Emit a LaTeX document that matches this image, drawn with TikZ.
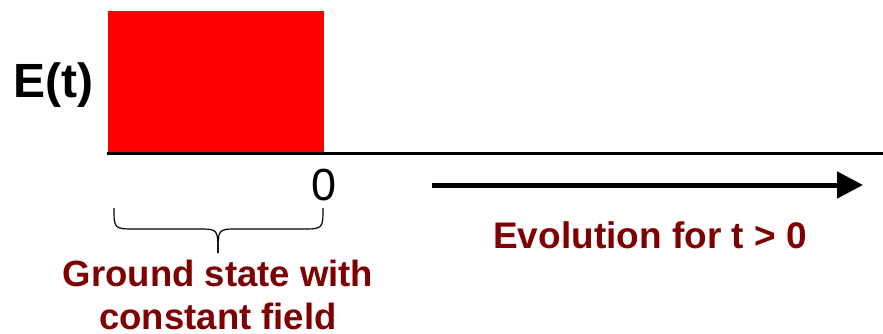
\documentclass[tikz,border=0pt]{standalone}
\usepackage{fontspec}
\setmainfont{Liberation Sans}
\usetikzlibrary{arrows.meta}
\definecolor{labelred}{HTML}{7F0000}
\begin{document}
\begin{tikzpicture}[x=1pt,y=-1pt,
  lbl/.style={inner sep=0pt,anchor=base,font=\bfseries\fontsize{36.5}{43}\selectfont,text=labelred,align=center},
  axisline/.style={line width=3pt},
  bracepath/.style={line width=1.2pt}]
  \useasboundingbox (0,0) rectangle (883,334);
  % field pulse before t = 0
  \fill[red] (108,11) rectangle (324,152);
  % time axis
  \coordinate (ax0) at (107,153);
  \coordinate (ax1) at (883,153);
  \draw[axisline] (ax0) -- (ax1);
  \node[inner sep=0pt,anchor=base,font=\bfseries\fontsize{48}{48}\selectfont] (E) at (53.5,98) {E(t)};
  \node[inner sep=0pt,anchor=base,font=\fontsize{45}{45}\selectfont] (zero) at (324,200) {0};
  % evolution arrow
  \coordinate (ev0) at (432,185);
  \coordinate (ev1) at (863,185);
  \draw[line width=5pt,-{Triangle[length=26pt,width=26pt]}] (ev0) -- (ev1);
  \node[lbl,font=\bfseries\fontsize{37}{43}\selectfont] (evo) at (650,248) {Evolution for t > 0};
  % brace under the pulse
  \coordinate (bl) at (114,208);
  \coordinate (br) at (323,208);
  \coordinate (tip) at (218,253);
  \draw[bracepath] (bl) .. controls (114,229) .. (136,229) -- (198,229)
     .. controls (218,229) .. (tip);
  \draw[bracepath] (br) .. controls (323,229) .. (301,229) -- (238,229)
     .. controls (218,229) .. (tip);
  % two-line caption, placed by the baseline of its last line (no descenders)
  \node[lbl,text depth=0pt] (gs) at (218,329) {Ground state with\\constant field};
\end{tikzpicture}
\end{document}
